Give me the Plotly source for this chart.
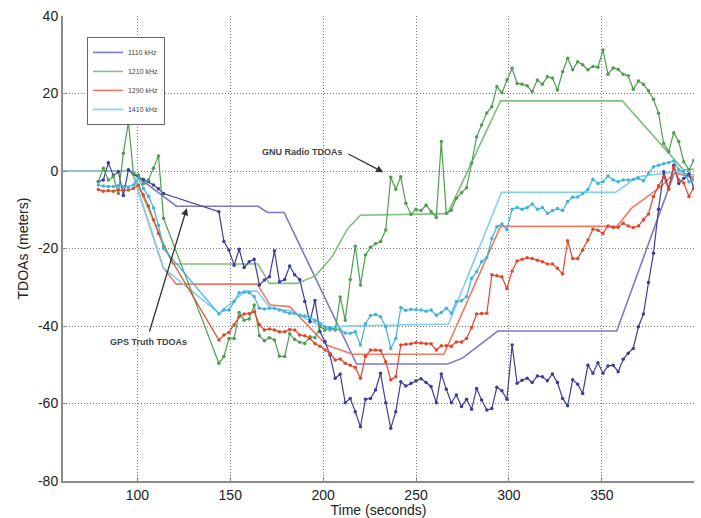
import plotly.graph_objects as go

# ---------------- data ----------------
t_meas = [79.0, 81.7, 84.4, 87.1, 89.8, 92.5, 95.2, 97.9, 100.6, 103.3, 106.0, 108.7, 111.4, 114.1,
          143.9, 146.6, 149.3, 152.1, 154.8, 157.5, 160.2, 162.9, 165.7, 168.4,
          171.1, 173.8, 176.5, 179.3, 182.0, 184.7, 187.4, 190.1, 192.9, 195.6,
          198.3, 201.0, 203.7, 206.5, 209.2, 211.9, 214.6, 217.3, 220.1, 222.8,
          225.5, 228.2, 230.9, 233.7, 236.4, 239.1, 241.8, 244.5, 247.3, 250.0,
          252.7, 255.4, 258.1, 260.9, 263.6, 266.3, 269.0, 271.7, 274.5, 277.2,
          279.9, 282.6, 285.3, 288.1, 290.8, 293.5, 296.2, 298.9, 301.7, 304.4,
          307.1, 309.8, 312.5, 315.3, 318.0, 320.7, 323.4, 326.1, 328.9, 331.6,
          334.3, 337.0, 339.7, 342.5, 345.2, 347.9, 350.6, 353.3, 356.1, 358.8,
          361.5, 364.2, 366.9, 369.7, 372.4, 375.1, 377.8, 380.5, 383.3, 386.0,
          388.7, 391.4, 394.1, 396.9, 399.6]

gnu_1110 = [-2.7, -2.3, 2.1, -1.2, -0.2, -6.3, 0.3, -0.8, -1.5, -2.2, -2.7, -3.6, -4.6, -5.8,
            -10.5, -18.2, -20.4, -24.3, -20.2, -24.9, -23.4, -22.8, -29.4, -28.1,
            -27.3, -20.6, -28.6, -28.0, -24.5, -26.8, -28.0, -33.7, -38.9, -33.4,
            -41.5, -44.0, -47.5, -53.5, -52.4, -59.8, -58.7, -62.1, -66.0, -58.9,
            -58.7, -56.5, -52.2, -59.8, -66.4, -62.1, -54.4, -55.5, -54.8, -54.1,
            -53.6, -54.6, -55.6, -59.8, -52.4, -56.3, -59.8, -57.8, -60.8, -58.9,
            -61.5, -56.1, -59.1, -61.7, -61.3, -55.8, -56.7, -58.9, -44.9, -54.8,
            -54.0, -53.5, -54.6, -52.9, -53.1, -54.1, -52.4, -54.6, -58.7, -60.6,
            -53.9, -55.0, -57.4, -50.1, -52.2, -49.5, -52.2, -50.3, -50.1, -51.8,
            -48.6, -47.0, -45.8, -40.2, -36.9, -28.8, -21.2, -9.9, -0.2, -4.5,
            1.5, -3.2, -1.9, -0.7, -4.5]

gnu_1210 = [-2.8, 0.7, -2.3, -1.5, -5.8, 4.6, 12.6, -0.6, -1.0, -3.3, -2.3, 0.7, 3.9, -12.2,
            -49.6, -47.9, -43.2, -43.2, -36.5, -38.5, -38.2, -34.6, -42.5, -43.8,
            -43.0, -43.6, -47.8, -47.9, -42.0, -43.5, -44.2, -44.5, -42.8, -43.0,
            -40.2, -41.0, -40.5, -41.0, -32.5, -38.5, -28.0, -19.4, -29.4, -21.7,
            -19.7, -18.8, -18.2, -15.2, -1.6, -4.7, -1.5, -8.3, -11.2, -9.9,
            -10.2, -8.8, -10.5, -12.0, 7.6, -10.9, -10.1, -7.0, -5.6, -4.3,
            2.0, 8.8, 11.9, 15.0, 16.6, 21.8, 20.2, 23.5, 26.5, 22.6,
            22.4, 22.0, 20.5, 23.5, 22.4, 24.3, 24.0, 20.9, 25.6, 29.1,
            26.1, 28.2, 27.4, 26.1, 27.0, 26.8, 31.2, 25.0, 26.6, 26.2,
            25.0, 24.6, 21.1, 23.2, 22.4, 20.7, 18.5, 14.9, 7.1, 5.0,
            9.9, 7.6, 2.4, 0.3, 2.8]

gnu_1290 = [-4.8, -5.2, -5.1, -5.2, -4.9, -5.0, -4.9, -4.5, -3.6, -6.2, -9.0, -12.6, -16.1, -19.5,
            -43.6, -42.3, -41.7, -39.7, -37.6, -36.9, -36.8, -36.3, -39.7, -41.0,
            -40.8, -41.0, -41.5, -41.5, -40.9, -41.0, -42.3, -42.5, -43.2, -44.5,
            -45.2, -46.2, -47.0, -48.8, -48.5, -49.6, -50.1, -50.7, -53.5, -47.8,
            -46.2, -46.2, -46.3, -49.2, -53.9, -53.1, -44.9, -44.7, -44.6, -44.3,
            -44.4, -44.6, -44.6, -46.2, -45.1, -45.1, -45.2, -44.1, -44.1, -43.2,
            -40.4, -36.9, -36.8, -36.7, -26.8, -27.0, -27.3, -30.3, -25.8, -23.2,
            -22.8, -22.4, -22.6, -23.0, -23.4, -24.0, -24.0, -25.1, -26.6, -18.0,
            -22.6, -22.6, -20.4, -17.8, -15.0, -15.3, -16.1, -14.2, -14.6, -14.5,
            -13.5, -14.2, -14.6, -14.2, -12.6, -11.1, -6.6, -3.8, -1.5, -4.7,
            1.1, -2.3, -3.1, -6.6, -4.1]

gnu_1410 = [-3.6, -3.9, -4.0, -4.0, -3.8, -4.0, -4.1, -3.6, -1.9, -4.5, -6.5, -9.5, -14.0, -20.0,
            -36.9, -35.9, -35.9, -33.7, -31.4, -31.2, -31.4, -32.4, -35.4, -35.6,
            -35.4, -35.4, -35.9, -36.3, -36.7, -36.7, -37.2, -37.4, -37.8, -38.5,
            -39.3, -40.2, -41.0, -40.6, -41.0, -41.8, -41.9, -41.5, -44.9, -39.4,
            -37.3, -37.0, -37.6, -40.2, -45.8, -43.2, -35.2, -36.0, -35.7, -35.8,
            -35.9, -36.2, -35.9, -37.2, -36.5, -35.4, -36.7, -33.7, -33.5, -32.4,
            -27.7, -26.0, -23.4, -22.3, -17.4, -14.4, -13.7, -15.1, -9.9, -9.4,
            -9.9, -9.4, -8.5, -9.9, -9.4, -10.9, -10.2, -9.7, -10.2, -7.9,
            -6.8, -6.7, -5.8, -4.8, -2.1, -3.2, -2.8, -1.3, -2.3, -2.8,
            -2.3, -2.3, -2.2, -1.9, -2.5, -0.6, 1.1, 1.5, 1.9, 2.2,
            2.6, 0.3, -0.1, -2.8, -2.2]

truth_t_1110 = [60, 96, 121, 165, 170, 179, 218, 267, 275, 283, 294, 358, 389, 394, 399.6]
truth_1110 = [0, 0, -9.1, -9.1, -10.7, -10.7, -49.8, -49.8, -48.3, -45.3, -41.3, -41.3, -0.5, -1.0, -2.0]

truth_t_1210 = [60, 97, 119, 165, 171, 186, 196, 205, 213, 220, 267, 295.5, 361, 394, 399.6]
truth_1210 = [0, 0, -24, -24, -29, -29, -27, -22, -15, -11.4, -11, 18.1, 18.1, 0.3, 0.5]

truth_t_1290 = [60, 97, 114, 121, 164.5, 171.5, 182, 202, 216, 265, 295.5, 358, 362, 366, 382, 389, 399.6]
truth_1290 = [0, 0, -25, -29.2, -29.2, -34.6, -35, -45, -47.3, -47.3, -14.3, -14.3, -12, -9.6, -4, -0.5, -1.5]

truth_t_1410 = [60, 97, 114, 144, 158, 164.5, 171.5, 182, 200, 213, 267.5, 296, 357.5, 369, 389, 399.6]
truth_1410 = [0, 0, -25, -36.7, -31, -31, -35.4, -36, -40.3, -40, -39.5, -5.5, -5.5, -1.5, -0.3, -1]

labels = ["1110 kHz", "1210 kHz", "1290 kHz", "1410 kHz"]
x_ticks = [100, 150, 200, 250, 300, 350]
y_ticks = [-80, -60, -40, -20, 0, 20, 40]

# ---------------- styling ----------------
meas_colors = ["#3e3e98", "#4f9e4f", "#e2472b", "#3fb3de"]
truth_colors = ["#7a7ac0", "#7fc07f", "#ee7a62", "#7fd0ee"]

fig = go.Figure()

truth_sets = [(truth_t_1110, truth_1110), (truth_t_1210, truth_1210),
              (truth_t_1290, truth_1290), (truth_t_1410, truth_1410)]
for (tx, ty), lab, col in zip(truth_sets, labels, truth_colors):
    fig.add_trace(go.Scatter(x=tx, y=ty, mode="lines", name=lab,
                             line=dict(color=col, width=1.6), showlegend=True))

meas_sets = [gnu_1110, gnu_1210, gnu_1290, gnu_1410]
for vals, lab, col in zip(meas_sets, labels, meas_colors):
    fig.add_trace(go.Scatter(x=t_meas, y=vals, mode="lines+markers", name=lab,
                             line=dict(color=col, width=1.2),
                             marker=dict(color=col, size=3.5),
                             showlegend=False, connectgaps=True))

# annotations
fig.add_annotation(x=232.4, y=-0.3, ax=212.8, ay=4.6, xref="x", yref="y",
                   axref="x", ayref="y", text="", showarrow=True,
                   arrowhead=2, arrowsize=1.1, arrowwidth=1.3, arrowcolor="#333333")
fig.add_annotation(x=212.0, y=5.0, xref="x", yref="y", text="<b>GNU Radio TDOAs</b>",
                   showarrow=False, xanchor="right", yanchor="middle",
                   font=dict(family="Liberation Sans, Arial", size=9, color="#444444"))
fig.add_annotation(x=126.6, y=-9.6, ax=106.3, ay=-41.8, xref="x", yref="y",
                   axref="x", ayref="y", text="", showarrow=True,
                   arrowhead=2, arrowsize=1.1, arrowwidth=1.3, arrowcolor="#333333")
fig.add_annotation(x=106.0, y=-44.2, xref="x", yref="y", text="<b>GPS Truth TDOAs</b>",
                   showarrow=False, xanchor="center", yanchor="middle",
                   font=dict(family="Liberation Sans, Arial", size=9, color="#444444"))

axis_font = dict(family="Liberation Sans, Arial", size=14, color="#222222")

fig.update_layout(
    width=701, height=518,
    margin=dict(l=63, r=7, t=16, b=37),
    paper_bgcolor="white", plot_bgcolor="white",
    font=axis_font,
    showlegend=True,
    legend=dict(x=0.038, y=0.955, xanchor="left", yanchor="top",
                bgcolor="white", bordercolor="#666666", borderwidth=1,
                font=dict(family="Liberation Sans, Arial", size=7, color="#444444"),
                itemwidth=30, tracegroupgap=0),
    xaxis=dict(range=[60, 399.6], tickvals=x_ticks, ticktext=[str(v) for v in x_ticks],
               showgrid=True, gridcolor="#7a7a7a", griddash="1px,2px", gridwidth=1,
               zeroline=False, showline=True, linecolor="#8c8c8c", linewidth=2,
               ticks="inside", ticklen=4, tickcolor="#8c8c8c",
               title=dict(text="Time (seconds)", font=axis_font, standoff=2),
               tickfont=axis_font, automargin=False),
    yaxis=dict(range=[-80, 40], tickvals=y_ticks, ticktext=[str(v) for v in y_ticks],
               showgrid=True, gridcolor="#7a7a7a", griddash="1px,2px", gridwidth=1,
               zeroline=False, showline=True, linecolor="#8c8c8c", linewidth=2,
               ticks="inside", ticklen=4, tickcolor="#8c8c8c",
               title=dict(text="TDOAs (meters)", font=axis_font, standoff=6),
               tickfont=axis_font, automargin=False),
)

fig.write_html("out.html")
